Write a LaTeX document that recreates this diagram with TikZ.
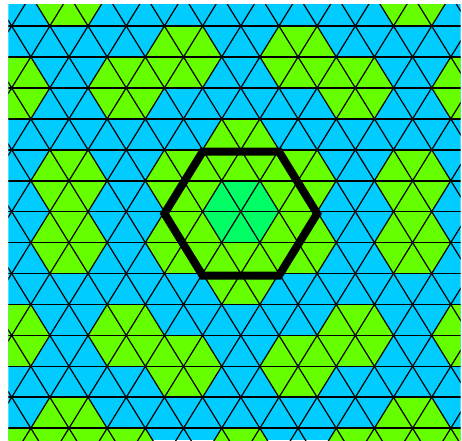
\documentclass[tikz,border=0pt]{standalone}
\begin{document}
\begin{tikzpicture}[x=1pt,y=-1pt]
\definecolor{bl}{RGB}{0,204,255}
\definecolor{gr}{RGB}{102,255,0}
\definecolor{tl}{RGB}{0,255,102}
\tikzset{
  hline/.style={black,line width=1.7pt},
  dline/.style={black,line width=1.2pt},
  vdot/.style={black},
  bigline/.style={black,line width=8pt,line join=miter}
}
\useasboundingbox (0,0) rectangle (462,440);
\fill[white] (0,0) rectangle (462,440);
\begin{scope}
\clip (8.3,4.7) rectangle (460.5,440);
\fill[bl] (0,0) rectangle (462,440);
% green hexagonal cells (p = column, r = row of centre vertex)
\foreach \p/\r in {0/5,0/9,0/15,
  1/2,-1/2,1/6,-1/6,1/8,-1/8,1/12,-1/12,
  2/3,-2/3,2/11,-2/11,2/15,-2/15,
  3/0,-3/0,3/6,-3/6,3/8,-3/8,3/14,-3/14,
  4/3,-4/3,4/11,-4/11,4/15,-4/15}{
  \pgfmathsetmacro\cx{240.8+57.27*\p}
  \pgfmathsetmacro\cy{-4.94+30.94*\r}
  \fill[gr] (\cx-38.18,\cy) -- (\cx-19.09,\cy-30.94) -- (\cx+19.09,\cy-30.94)
    -- (\cx+38.18,\cy) -- (\cx+19.09,\cy+30.94) -- (\cx-19.09,\cy+30.94) -- cycle;
}
% central cell
\fill[tl] (240.8-38.18,211.64) -- (240.8-19.09,211.64-30.94) -- (240.8+19.09,211.64-30.94)
    -- (240.8+38.18,211.64) -- (240.8+19.09,211.64+30.94) -- (240.8-19.09,211.64+30.94) -- cycle;
% lattice lines
\foreach \r in {0,...,15}{
  \draw[hline] (0,{-4.94+30.94*\r}) -- (470,{-4.94+30.94*\r});
}
\foreach \k in {-12,...,20}{
  \draw[dline] ({11.7+38.18*\k-3*19.09},{26-3*30.94}) -- ({11.7+38.18*\k+16*19.09},{26+16*30.94});
  \draw[dline] ({11.7+38.18*\k+3*19.09},{26-3*30.94}) -- ({11.7+38.18*\k-16*19.09},{26+16*30.94});
}
% vertex dots
\foreach \r in {0,...,15}{
  \foreach \i in {-1,...,12}{
    \pgfmathsetmacro\vx{11.7+38.18*\i+19.09*(1-mod(\r,2))}
    \fill[vdot] (\vx,{-4.94+30.94*\r}) circle (1.6pt);
  }
}
\end{scope}
% thick hexagon
\coordinate (h1) at (164.44,213.6);
\coordinate (h2) at (202.62,151.7);
\coordinate (h3) at (278.98,151.7);
\coordinate (h4) at (317.16,213.6);
\coordinate (h5) at (278.98,275.5);
\coordinate (h6) at (202.62,275.5);
\draw[bigline] (h1) -- (h2) -- (h3) -- (h4) -- (h5) -- (h6) -- cycle;
\end{tikzpicture}
\end{document}
